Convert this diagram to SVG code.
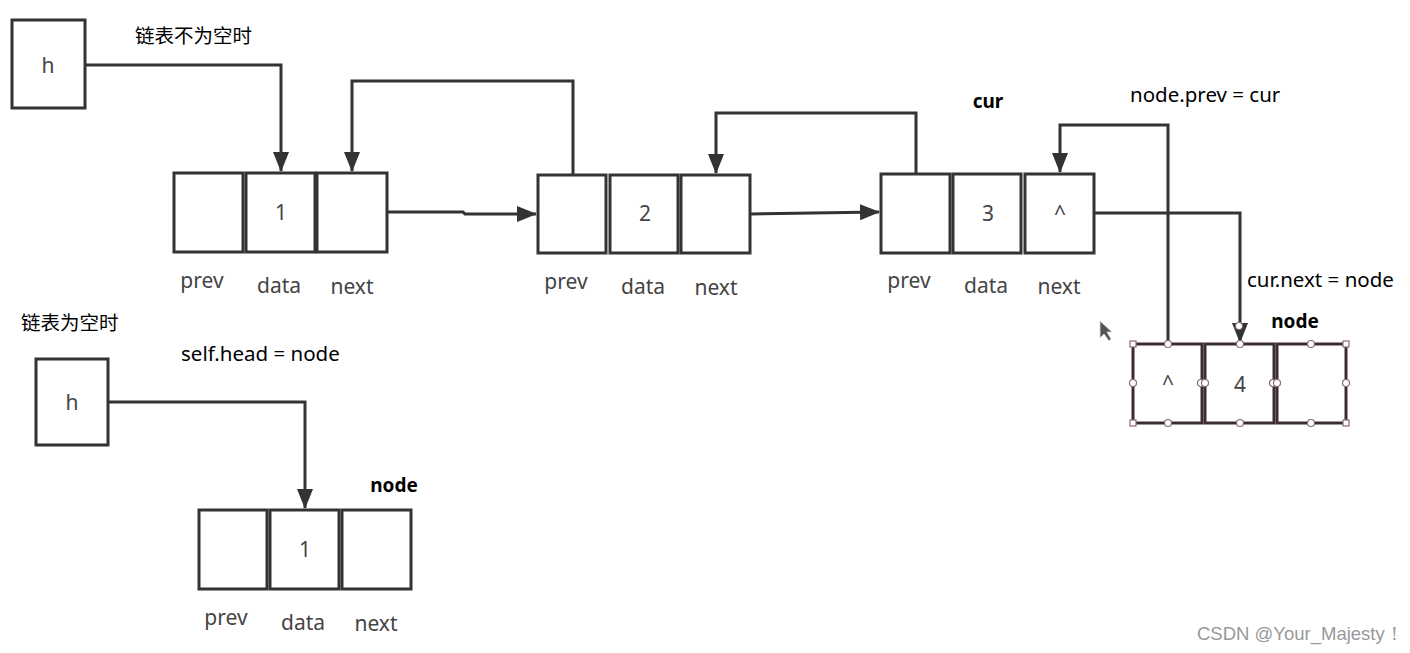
<svg xmlns="http://www.w3.org/2000/svg" width="1410" height="653" viewBox="0 0 1410 653">
<defs>
<marker id="arr" viewBox="0 0 20 16" refX="19" refY="8" markerWidth="20" markerHeight="16" markerUnits="userSpaceOnUse" orient="auto"><path d="M0,0 L20,8 L0,16 Z" fill="#333"/></marker>
<style>
.box{fill:#fff;stroke:#333;stroke-width:3}
.nbox{fill:#fff;stroke:#3b2e31;stroke-width:3}
.ln{fill:none;stroke:#333;stroke-width:3}
.t{font-family:"Noto Sans","Open Sans",sans-serif;font-size:21px;fill:#444;text-anchor:middle}
.v{font-family:"Noto Sans","Open Sans",sans-serif;font-size:21px;fill:#444;text-anchor:middle}
.lb{font-family:"Noto Sans","Noto Sans CJK SC",sans-serif;font-size:20.5px;fill:#000}
.cj{font-family:"Noto Sans CJK SC",sans-serif;font-size:19.5px;fill:#000}
.bd{font-family:"Noto Sans",sans-serif;font-size:19px;font-weight:bold;fill:#000;text-anchor:middle}
.hc{fill:#fff;stroke:#8a6a72;stroke-width:1.2}
</style>
</defs>
<rect width="1410" height="653" fill="#fff"/>
<g id="connectors">
<path class="ln" d="M85,65 H281 V171" marker-end="url(#arr)"/>
<path class="ln" d="M573,175 V81 H352 V171" marker-end="url(#arr)"/>
<path class="ln" d="M387,212 H463 L465,214 H536" marker-end="url(#arr)"/>
<path class="ln" d="M916,174 V113 H716 V173" marker-end="url(#arr)"/>
<path class="ln" d="M750,214 L879,212" marker-end="url(#arr)"/>
<path class="ln" d="M1168,344 V125 H1060 V172" marker-end="url(#arr)"/>
<path class="ln" d="M1094,213 H1240 V342" marker-end="url(#arr)"/>
<path class="ln" d="M108,402 H305 V508" marker-end="url(#arr)"/>
</g>
<g id="h1"><rect class="box" x="12" y="20" width="73" height="88"/><text class="v" x="48" y="73">h</text></g>
<g id="h2"><rect class="box" x="36" y="359" width="72" height="86"/><text class="v" x="72" y="410">h</text></g>
<g id="node1">
<rect class="box" x="174" y="173" width="69" height="79"/>
<rect class="box" x="246" y="173" width="69" height="79"/>
<rect class="box" x="317" y="173" width="70" height="79"/>
<text class="v" x="281" y="220">1</text>
<text class="t" x="202" y="288">prev</text><text class="t" x="279" y="293">data</text><text class="t" x="352" y="294">next</text>
</g>
<g id="node2">
<rect class="box" x="538" y="175" width="68" height="78"/>
<rect class="box" x="610" y="175" width="68" height="78"/>
<rect class="box" x="681" y="175" width="69" height="78"/>
<text class="v" x="645" y="221">2</text>
<text class="t" x="566" y="289">prev</text><text class="t" x="643" y="294">data</text><text class="t" x="716" y="295">next</text>
</g>
<g id="node3">
<rect class="box" x="881" y="174" width="69" height="79"/>
<rect class="box" x="953" y="174" width="68" height="79"/>
<rect class="box" x="1025" y="174" width="69" height="79"/>
<text class="v" x="988" y="221">3</text><text class="v" x="1060" y="221">^</text>
<text class="t" x="909" y="288">prev</text><text class="t" x="986" y="293">data</text><text class="t" x="1059" y="294">next</text>
</g>
<g id="node4">
<rect class="nbox" x="1133" y="344" width="69" height="79"/>
<rect class="nbox" x="1205" y="344" width="69" height="79"/>
<rect class="nbox" x="1277" y="344" width="69" height="79"/>
<text class="v" x="1168" y="391">^</text><text class="v" x="1240" y="392">4</text>
<g id="handles">
<rect class="hc" x="1130" y="341" width="6" height="6"/><rect class="hc" x="1343" y="341" width="6" height="6"/>
<rect class="hc" x="1130" y="420" width="6" height="6"/><rect class="hc" x="1343" y="420" width="6" height="6"/>
<circle class="hc" cx="1168" cy="344" r="3.5"/><circle class="hc" cx="1240" cy="344" r="3.5"/><circle class="hc" cx="1311" cy="344" r="3.5"/>
<circle class="hc" cx="1168" cy="423" r="3.5"/><circle class="hc" cx="1240" cy="423" r="3.5"/><circle class="hc" cx="1311" cy="423" r="3.5"/>
<circle class="hc" cx="1133" cy="383" r="3.5"/><circle class="hc" cx="1201" cy="383" r="3.5"/><circle class="hc" cx="1205" cy="383" r="3.5"/>
<circle class="hc" cx="1273" cy="383" r="3.5"/><circle class="hc" cx="1277" cy="383" r="3.5"/><circle class="hc" cx="1346" cy="383" r="3.5"/>
<circle class="hc" cx="1239" cy="326" r="3.5"/>
</g>
</g>
<g id="node5">
<rect class="box" x="199" y="510" width="68" height="79"/>
<rect class="box" x="270" y="510" width="69" height="79"/>
<rect class="box" x="342" y="510" width="69" height="79"/>
<text class="v" x="305" y="557">1</text>
<text class="t" x="226" y="625">prev</text><text class="t" x="303" y="630">data</text><text class="t" x="376" y="631">next</text>
</g>
<g id="labels">
<text class="cj" x="135" y="43">链表不为空时</text>
<text class="cj" x="21" y="330">链表为空时</text>
<text class="lb" x="181" y="361">self.head = node</text>
<text class="lb" x="1130" y="102">node.prev = cur</text>
<text class="lb" x="1247" y="287">cur.next = node</text>
<text class="bd" x="988" y="108">cur</text>
<text class="bd" x="1295" y="328">node</text>
<text class="bd" x="394" y="492">node</text>
<text x="1197" y="640" style="font-family:'Liberation Sans',Arial,sans-serif;font-size:18.5px;fill:#999">CSDN @Your_Majesty！</text>
</g>
<path d="M1100,321 V338 L1104,334 L1109,341 L1111,339 L1107,332 L1112,332 Z" fill="#555" stroke="#ddd" stroke-width="0.8"/>
</svg>
